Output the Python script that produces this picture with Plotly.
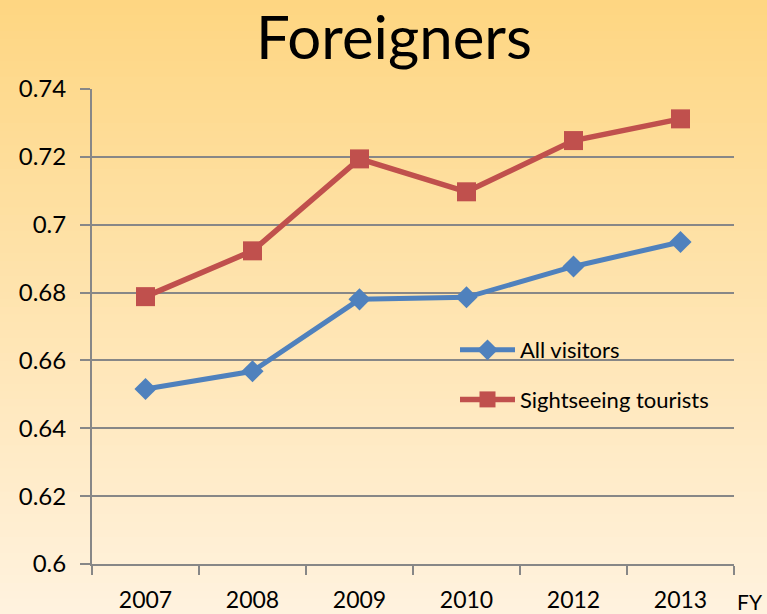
import plotly.graph_objects as go

years = ["2007", "2008", "2009", "2010", "2012", "2013"]
all_visitors = [0.6516, 0.6568, 0.6780, 0.6786, 0.6877, 0.6949]
sightseeing = [0.6788, 0.6923, 0.7194, 0.7097, 0.7248, 0.7312]
y_ticks = [0.6, 0.62, 0.64, 0.66, 0.68, 0.7, 0.72, 0.74]
y_tick_labels = ["0.6", "0.62", "0.64", "0.66", "0.68", "0.7", "0.72", "0.74"]

W, H = 767, 614
L, R, T, B = 92, 33, 89, 50
PW, PH = W - L - R, H - T - B

FONT = "Lato, 'DejaVu Sans', sans-serif"
GRID = "#878787"

fig = go.Figure()
fig.add_trace(go.Scatter(
    x=years, y=all_visitors, name="All visitors", mode="lines+markers",
    line=dict(color="#4F81BD", width=5),
    marker=dict(symbol="diamond", size=17, color="#4F81BD"),
    legendgroup="a",
))
fig.add_trace(go.Scatter(
    x=years, y=sightseeing, name="Sightseeing tourists", mode="lines+markers",
    line=dict(color="#C0504D", width=5.5),
    marker=dict(symbol="square", size=19, color="#C0504D"),
    legendgroup="b",
))

# vertical background gradient (top orange -> bottom pale cream)
top = (254, 214, 130)
bot = (255, 242, 222)
n = 80
shapes = []
for i in range(n):
    f = i / (n - 1)
    c = tuple(round(top[k] + (bot[k] - top[k]) * f) for k in range(3))
    pix_top = H * i / n
    pix_bot = H * (i + 1) / n + 1
    shapes.append(dict(
        type="rect", xref="paper", yref="paper", layer="below",
        x0=-L / PW - 0.01, x1=(W - L) / PW + 0.01,
        y0=(H - B - pix_bot) / PH, y1=(H - B - pix_top) / PH,
        fillcolor="rgb(%d,%d,%d)" % c, line=dict(width=0),
    ))

fig.update_layout(
    width=W, height=H,
    margin=dict(l=L, r=R, t=T, b=B, autoexpand=False),
    paper_bgcolor="rgb(255,242,222)",
    plot_bgcolor="rgba(0,0,0,0)",
    shapes=shapes,
    font=dict(family=FONT, color="#000000"),
    title=dict(text="Foreigners", x=394 / W, xanchor="center",
               y=1 - 38 / H, yanchor="middle",
               font=dict(family=FONT, size=60, color="#000000"),
               automargin=False),
    showlegend=True,
    legend=dict(x=(455 - L) / PW, y=(H - B - 329) / PH, xanchor="left", yanchor="top",
                bgcolor="rgba(0,0,0,0)", font=dict(size=22, family=FONT),
                itemwidth=55, tracegroupgap=18, traceorder="grouped"),
    xaxis=dict(
        type="category", showgrid=False, showline=True, linecolor=GRID, linewidth=2,
        ticks="outside", tickson="boundaries", ticklen=9, tickcolor=GRID, tickwidth=2,
        tickfont=dict(size=23, family=FONT), zeroline=False, automargin=False,
        range=[-0.5, 5.5], fixedrange=True, ticklabelstandoff=14,
    ),
    yaxis=dict(
        range=[0.6, 0.74], tickvals=y_ticks, ticktext=y_tick_labels,
        showgrid=True, gridcolor=GRID, gridwidth=2,
        showline=True, linecolor=GRID, linewidth=2,
        ticks="outside", ticklen=10, tickcolor=GRID, tickwidth=2,
        tickfont=dict(size=24, family=FONT), zeroline=False, automargin=False,
        ticklabelstandoff=9, fixedrange=True,
    ),
    annotations=[dict(text="FY", xref="paper", yref="paper",
                      x=(750 - L) / PW, y=(H - B - 601) / PH,
                      xanchor="center", yanchor="middle", showarrow=False,
                      font=dict(size=21, family=FONT))],
)

fig.write_html("out.html", config={"displayModeBar": False},
               post_script="document.body.style.margin='0';")
